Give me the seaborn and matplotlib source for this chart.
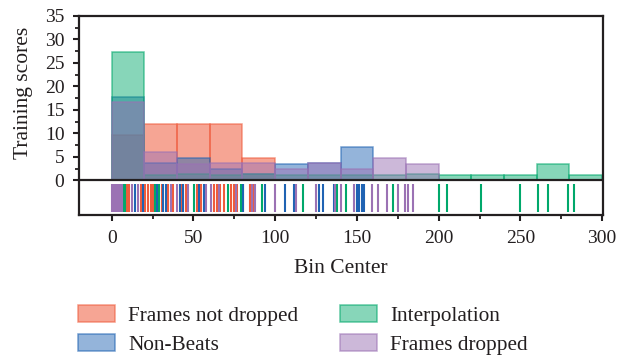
import numpy as np
import pandas as pd
import seaborn as sns
import matplotlib
matplotlib.use("Agg")
import matplotlib.pyplot as plt
from matplotlib.colors import to_rgba
from matplotlib.ticker import MultipleLocator, FixedLocator
from matplotlib.patches import Patch

# ---- data -------------------------------------------------------------
bin_centers = [10, 30, 50, 70, 90, 110, 130, 150, 170, 190, 210, 230, 250, 270, 290]

series_names = ["Frames not dropped", "Non-Beats", "Interpolation", "Frames dropped"]

heights_not_dropped = [9.6, 12.0, 12.0, 12.0, 4.8, 0, 0, 0, 0, 0, 0, 0, 0, 0, 0]
heights_non_beats = [17.8, 3.6, 4.7, 2.4, 1.4, 3.5, 3.6, 7.1, 0, 0, 0, 0, 0, 0, 0]
heights_interp = [27.3, 1.2, 1.4, 1.2, 1.4, 1.2, 1.2, 1.2, 1.2, 1.3, 1.2, 1.2, 1.2, 3.5, 1.2]
heights_dropped = [16.7, 6.0, 3.5, 3.7, 3.7, 2.4, 3.7, 2.4, 4.8, 3.5, 0, 0, 0, 0, 0]

rug_not_dropped = [9.6, 10.6, 18.2, 20.6, 22.4, 23.9, 25.3, 30.6, 34.7, 37.8,
                   43.3, 45.3, 52.4, 54.7, 62.7, 64.5, 66.0, 68.4, 72.9, 74.5,
                   76.4, 80.6, 84.3, 86.5]
rug_non_beats = [2.5, 14.3, 19.4, 28.0, 31.4, 33.0, 41.8, 43.9, 53.7, 56.5,
                 80.2, 93.6, 105.9, 111.7, 126.8, 129.2, 135.8, 150.0, 151.0,
                 153.0, 154.2]
rug_interp = [6.7, 8.0, 26.7, 29.2, 50.6, 71.0, 78.8, 91.8, 116.8, 137.8,
              143.5, 172.0, 200.0, 205.0, 226.0, 250.0, 261.0, 267.0, 279.0, 283.0]
rug_dropped = [0.0, 1.0, 2.0, 3.0, 4.0, 5.0, 6.0, 12.7, 16.3, 36.3, 40.2, 46.7,
               57.8, 60.6, 65.9, 76.1, 86.1, 87.8, 99.7, 112.5, 124.9, 136.8,
               140.2, 148.2, 159.2, 162.9, 168.4, 175.1, 179.4, 181.3, 184.5]

colors = {
    "Frames not dropped": "#EF5B3C",
    "Non-Beats": "#1F63B3",
    "Interpolation": "#00A86B",
    "Frames dropped": "#9B72B4",
}
heights = {
    "Frames not dropped": heights_not_dropped,
    "Non-Beats": heights_non_beats,
    "Interpolation": heights_interp,
    "Frames dropped": heights_dropped,
}
rugs = {
    "Frames not dropped": rug_not_dropped,
    "Non-Beats": rug_non_beats,
    "Interpolation": rug_interp,
    "Frames dropped": rug_dropped,
}

# ---- style ------------------------------------------------------------
sns.set_theme(style="ticks")
plt.rcParams["font.family"] = ["Liberation Serif", "DejaVu Serif"]
ink = "#231F20"
plt.rcParams.update({
    "axes.edgecolor": ink,
    "axes.linewidth": 1.6,
    "xtick.color": ink,
    "ytick.color": ink,
    "xtick.labelcolor": ink,
    "ytick.labelcolor": ink,
    "text.color": ink,
    "axes.labelcolor": ink,
})

fig = plt.figure(figsize=(6.32, 3.58), dpi=100)
ax = fig.add_axes([79 / 632, 1 - 215 / 358, (603 - 79) / 632, (215 - 16) / 358])

fill_alpha = {"Frames not dropped": 0.55, "Non-Beats": 0.48,
              "Interpolation": 0.47, "Frames dropped": 0.5}
edge_alpha = 0.6

for name in series_names:
    c = colors[name]
    df = pd.DataFrame({"center": bin_centers, "height": heights[name]})
    sns.histplot(data=df, x="center", weights="height", binwidth=20,
                 binrange=(0, 300), ax=ax, element="bars", stat="count",
                 facecolor=to_rgba(c, fill_alpha[name]),
                 edgecolor=to_rgba(c, edge_alpha), linewidth=1.1)

ax.axhline(0, color=ink, lw=1.6, zorder=5)

ax.set_xlim(-20, 300.5)
ax.set_ylim(-7.4, 35)

# rug band below the zero line
ax_rug = ax.inset_axes([0, 0.015, 1, 0.141])
for name in series_names:
    sns.rugplot(x=rugs[name], ax=ax_rug, height=1, color=colors[name],
                linewidth=1.5, alpha=1)
ax_rug.set_xlim(ax.get_xlim())
ax_rug.set_ylim(0, 1)
ax_rug.set_xticks([])
ax_rug.set_yticks([])
ax_rug.axis("off")

# ticks
ax.yaxis.set_major_locator(FixedLocator(np.arange(0, 36, 5)))
ax.yaxis.set_minor_locator(FixedLocator(np.arange(2.5, 35, 5)))
ax.xaxis.set_major_locator(MultipleLocator(50))
ax.xaxis.set_minor_locator(MultipleLocator(25))
ax.tick_params(axis="both", which="major", direction="out", length=4.2,
               width=1.5, labelsize=14)
ax.tick_params(axis="both", which="minor", direction="out", length=2.6, width=1.3)
ax.tick_params(axis="x", which="major", pad=6.8)
ax.tick_params(axis="y", which="major", pad=6.3)

ax.set_xlabel("Bin Center", fontsize=15.5)
ax.set_ylabel("Training scores", fontsize=15.5)
ax.xaxis.set_label_coords(0.5, -0.222)
ax.yaxis.set_label_coords(-0.088, 0.616)

for side in ["top", "right", "left", "bottom"]:
    ax.spines[side].set_visible(True)

# legend
handles = [Patch(facecolor=to_rgba(colors[n], fill_alpha[n]),
                 edgecolor=to_rgba(colors[n], edge_alpha), linewidth=1.1)
           for n in series_names]
fig.legend(handles, series_names, loc="upper left", ncol=2,
           bbox_to_anchor=(78 / 632, 1 - 305 / 358), frameon=False,
           fontsize=15.3, handlelength=1.74, handleheight=0.85,
           handletextpad=0.63, columnspacing=1.96, labelspacing=0.4,
           borderpad=0, borderaxespad=0)

fig.savefig("out.png", dpi=100)
